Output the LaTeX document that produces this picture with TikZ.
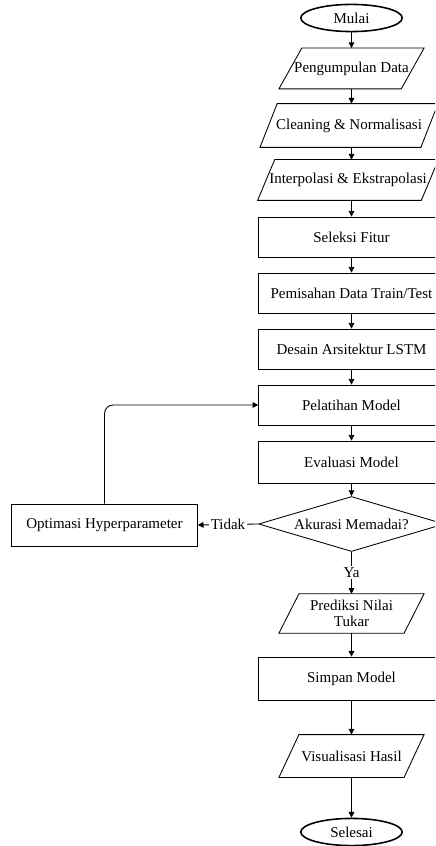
\documentclass[tikz,border=0pt]{standalone}
\usepackage{fontspec}
\setmainfont{Liberation Serif}
\usetikzlibrary{arrows.meta, shapes.geometric}

\tikzset{
  kotak/.style={draw, rectangle, minimum width=130pt, minimum height=28pt, inner sep=2pt},
  jajar/.style={rectangle, inner xsep=0pt, inner ysep=2pt, minimum height=28pt, align=center},
  ujung/.style={draw, ellipse, line width=1.1pt, minimum width=71pt, minimum height=19pt, inner sep=0pt},
  panah/.style={-{Triangle[length=4pt, width=4pt]}},
}
% parallelogram round a jajar node
\newcommand{\jajarbingkai}[2]{\draw ([xshift=#2]#1.north west) -- ([xshift=#2]#1.north east)
  -- ([xshift=-#2]#1.south east) -- ([xshift=-#2]#1.south west) -- cycle;}

\begin{document}
\begin{tikzpicture}[x=0.7pt, y=-0.7pt, font=\fontsize{10.5}{11.5}\selectfont, line width=0.6pt]
            \useasboundingbox (0,0) rectangle (435,846);
            \clip (0,0) rectangle (435,846);
            \node[ujung] (mulai) at (351.5,18) {Mulai};
            \node[jajar, minimum width=85pt] (kumpul) at (351.5,68.5) {Pengumpulan Data};
            \node[jajar, minimum width=112pt, minimum height=30pt] (bersih) at (349,125.5) {Cleaning \& Normalisasi};
            \node[jajar, minimum width=114pt] (interp) at (348,180) {Interpolasi \& Ekstrapolasi};
            \node[kotak] (seleksi) at (351.5,237) {Seleksi Fitur};
            \node[kotak] (pisah) at (351.5,293) {Pemisahan Data Train/Test};
            \node[kotak] (desain) at (351.5,349) {Desain Arsitektur LSTM};
            \node[kotak] (latih) at (351.5,405) {Pelatihan Model};
            \node[kotak, minimum height=29.4pt] (evaluasi) at (351.5,462) {Evaluasi Model};
            \node[draw, diamond, aspect=3.4, inner sep=0pt, minimum width=130pt, minimum height=38.5pt] (cek) at (351.5,524) {Akurasi Memadai?};
            \node[kotak, minimum height=29.4pt] (optimasi) at (104.5,525) {Optimasi Hyperparameter};
            \node[jajar, minimum width=87pt, minimum height=27pt, inner ysep=1pt] (prediksi) at (351.5,613.5) {Prediksi Nilai\\Tukar};
            \node[kotak, minimum height=30pt] (simpan) at (351.5,678.5) {Simpan Model};
            \node[jajar, minimum width=87pt, minimum height=29.4pt] (visual) at (351.5,756) {Visualisasi Hasil};
            \node[ujung] (selesai) at (351.5,832) {Selesai};
            \jajarbingkai{kumpul}{8pt}
            \jajarbingkai{bersih}{6pt}
            \jajarbingkai{interp}{6pt}
            \jajarbingkai{prediksi}{7pt}
            \jajarbingkai{visual}{7pt}
            \draw[panah] (mulai) -- (kumpul);
            \draw[panah] (kumpul) -- (kumpul |- bersih.north);
            \draw[panah] (kumpul |- bersih.south) -- (kumpul |- interp.north);
            \draw[panah] (kumpul |- interp.south) -- (seleksi);
            \draw[panah] (seleksi) -- (pisah);
            \draw[panah] (pisah) -- (desain);
            \draw[panah] (desain) -- (latih);
            \draw[panah] (latih) -- (evaluasi);
            \draw[panah] (evaluasi) -- (cek);
            \draw[panah] (cek.west) -- node[fill=white, inner sep=1pt] {Tidak} (optimasi.east);
            \draw[panah, rounded corners=6pt] (optimasi.north) |- (latih.west);
            \draw[panah] (cek.south) -- node[fill=white, inner sep=1pt] {Ya} (prediksi.north);
            \draw[panah] (prediksi) -- (simpan);
            \draw[panah] (simpan) -- (visual);
            \draw[panah] (visual) -- (selesai);
        \end{tikzpicture}
\end{document}
